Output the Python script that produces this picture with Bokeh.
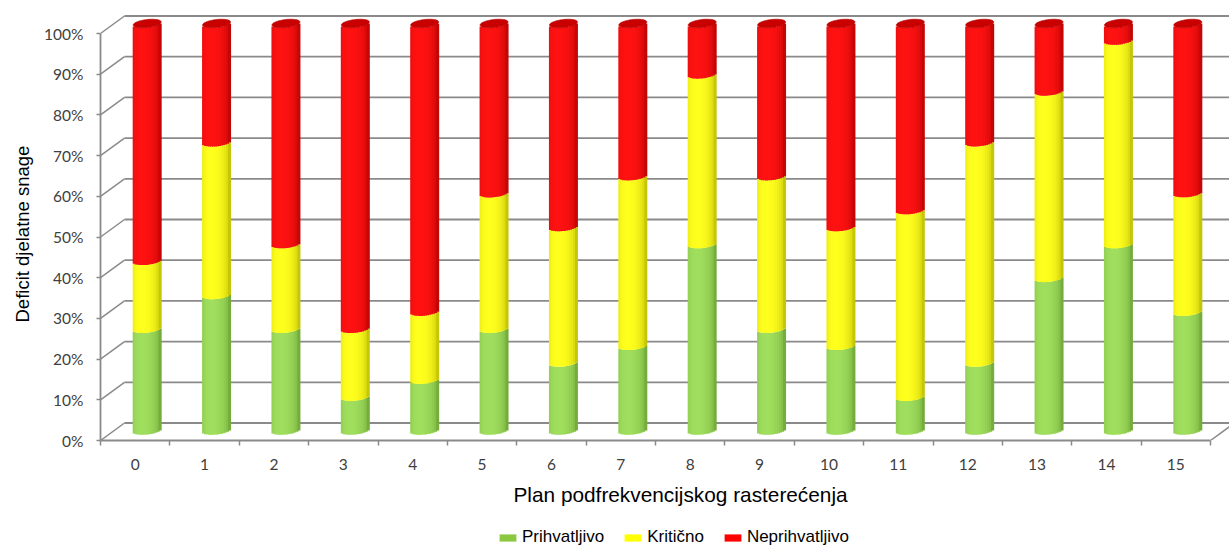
import math
from bokeh.plotting import figure
from bokeh.layouts import column
from bokeh.models import (ColumnDataSource, LinearAxis, FixedTicker, PrintfTickFormatter,
                          Legend, LegendItem, Range1d, Title)
from bokeh.embed import file_html
from bokeh.resources import INLINE

# ---- data -------------------------------------------------------------
plans = ["0", "1", "2", "3", "4", "5", "6", "7", "8", "9", "10", "11", "12", "13", "14", "15"]
prihvatljivo = [25.0, 33.3, 25.0, 8.3, 12.5, 25.0, 16.7, 20.8, 45.8, 25.0, 20.8, 8.3, 16.7, 37.5, 45.8, 29.2]
kriticno = [16.7, 37.5, 20.8, 16.7, 16.7, 33.3, 33.3, 41.7, 41.7, 37.5, 29.2, 45.8, 54.2, 45.8, 50.0, 29.2]
neprihvatljivo = [58.3, 29.2, 54.2, 75.0, 70.8, 41.7, 50.0, 37.5, 12.5, 37.5, 50.0, 45.8, 29.2, 16.7, 4.2, 41.7]
series_names = ["Prihvatljivo", "Kritično", "Neprihvatljivo"]
y_ticks = [0, 10, 20, 30, 40, 50, 60, 70, 80, 90, 100]

# ---- layout -----------------------------------------------------------
W, H, LEG_H = 1229, 547, 30
MAIN_H = H - LEG_H
B_LEFT, B_RIGHT, B_TOP, B_BOTTOM = 100, 0, 5, 77
frame_w = W - B_LEFT - B_RIGHT
frame_h = MAIN_H - B_TOP - B_BOTTOM
n = len(plans)
X_PX = 1110.0 / n          # pixels per category
Y_PX = 407.0 / 100.0       # pixels per percent
x_start, x_end = -0.5, -0.5 + frame_w / X_PX
y_start, y_end = 0.0, frame_h / Y_PX

# depth of the 3-D box (front plane -> back wall)
DX, DY = 24 / X_PX, 17.5 / Y_PX
# cylinders sit half way in depth
CX, CY = 12 / X_PX, 10 / Y_PX
R_PX, HS_PX, TILT_PX = 14.0, 4.0, 1.5
NSTRIP = 14

GRID = "#8a8a8a"
TEXT = "#404040"

# shading ramps (edge colour, highlight colour) per series
ramps = [((96, 150, 44), (160, 222, 94)),
         ((172, 172, 0), (255, 255, 30)),
         ((168, 0, 0), (255, 18, 18))]
cap_color = "#c80000"


def shade(ramp, u):
    lo, hi = ramp
    th = math.asin(max(-1.0, min(1.0, u)))
    t = max(0.0, math.cos(th + 0.35))
    t = 0.25 + 0.75 * t ** 0.7
    r, g, b = (int(round(l + (h - l) * t)) for l, h in zip(lo, hi))
    return "#%02x%02x%02x" % (r, g, b)


def front_offset(u):
    # vertical offset (px) of the visible front arc of the cylinder section
    return -HS_PX * math.sqrt(max(0.0, 1 - u * u)) + TILT_PX * u


p = figure(width=W, height=MAIN_H, x_range=Range1d(x_start, x_end), y_range=Range1d(y_start, y_end),
           x_axis_type=None, y_axis_type=None, toolbar_location=None, output_backend="svg",
           min_border_left=B_LEFT, min_border_right=B_RIGHT, min_border_top=B_TOP,
           min_border_bottom=B_BOTTOM, outline_line_color=None, background_fill_color="white")

# ---- walls / gridlines -------------------------------------------------
gx0 = [-0.5 + DX] * len(y_ticks)
gx1 = [x_end + 1] * len(y_ticks)
gy = [v + DY for v in y_ticks]
p.segment(x0=gx0, y0=gy, x1=gx1, y1=gy, line_color=GRID, line_width=1.8)
p.segment(x0=[-0.5] * len(y_ticks), y0=y_ticks, x1=gx0, y1=gy, line_color=GRID, line_width=1.5)
p.segment(x0=[n - 0.5], y0=[0], x1=[n - 0.5 + DX], y1=[DY], line_color=GRID, line_width=1.5)

# ---- cylinders ---------------------------------------------------------
series = [prihvatljivo, kriticno, neprihvatljivo]
strips = dict(left=[], right=[], bottom=[], top=[], color=[])
caps_x, caps_y = [], []
half_w = (R_PX / NSTRIP + 0.5) / X_PX
for i in range(n):
    total = sum(s[i] for s in series)
    cx = i + CX
    base = 0.0
    for k, s in enumerate(series):
        share = s[i] / total * 100.0
        if share <= 0:
            continue
        for j in range(NSTRIP):
            u = -1 + (2 * j + 1) / NSTRIP
            off = front_offset(u) / Y_PX
            xc = cx + u * R_PX / X_PX
            strips["left"].append(xc - half_w)
            strips["right"].append(xc + half_w)
            strips["bottom"].append(CY + base + off)
            strips["top"].append(CY + base + share + off)
            strips["color"].append(shade(ramps[k], u))
        base += share
    ex, ey = [], []
    for m in range(48):
        ph = 2 * math.pi * m / 48
        ex.append(cx + R_PX * math.cos(ph) / X_PX)
        ey.append(CY + base + (HS_PX * math.sin(ph) + TILT_PX * math.cos(ph)) / Y_PX)
    caps_x.append(ex)
    caps_y.append(ey)

p.quad(left="left", right="right", bottom="bottom", top="top", fill_color="color",
       line_color=None, source=ColumnDataSource(strips))
p.patches(xs=caps_x, ys=caps_y, fill_color=cap_color, line_color="#b00000", line_width=0.6)

# ---- axes --------------------------------------------------------------
yaxis = LinearAxis(ticker=FixedTicker(ticks=y_ticks), formatter=PrintfTickFormatter(format="%d%%"),
                   bounds=(0, 100))
yaxis.axis_line_color = GRID
yaxis.axis_line_width = 1.8
yaxis.major_tick_line_color = GRID
yaxis.major_tick_line_width = 1.5
yaxis.major_tick_out = 4
yaxis.major_tick_in = 0
yaxis.minor_tick_line_color = None
yaxis.major_label_standoff = 13
yaxis.major_label_text_font = "Lato"
yaxis.major_label_text_font_size = "15.5px"
yaxis.major_label_text_color = TEXT
p.add_layout(yaxis, "left")

xaxis = LinearAxis(ticker=FixedTicker(ticks=list(range(n)), minor_ticks=[i - 0.5 for i in range(n + 1)]),
                   major_label_overrides={i: plans[i] for i in range(n)},
                   bounds=(-0.5, n - 0.5))
xaxis.axis_line_color = GRID
xaxis.axis_line_width = 1.8
xaxis.major_tick_line_color = None
xaxis.major_tick_out = 5
xaxis.major_tick_in = 0
xaxis.minor_tick_line_color = GRID
xaxis.minor_tick_line_width = 1.5
xaxis.minor_tick_out = 5
xaxis.minor_tick_in = 0
xaxis.major_label_standoff = 13
xaxis.major_label_text_font = "Lato"
xaxis.major_label_text_font_size = "15.5px"
xaxis.major_label_text_color = TEXT
p.add_layout(xaxis, "below")

# axis titles
p.add_layout(Title(text="Deficit djelatne snage", align="left", offset=118,
                   vertical_align="top", standoff=14, text_font="Liberation Sans",
                   text_font_size="18.5px", text_font_style="normal", text_color="black"), "left")
p.add_layout(Title(text="Plan podfrekvencijskog rasterećenja", align="left", offset=413,
                   vertical_align="bottom", standoff=16, text_font="Liberation Sans",
                   text_font_size="20.8px", text_font_style="normal", text_color="black"), "below")

# ---- legend strip ------------------------------------------------------
leg = figure(width=W, height=LEG_H, x_range=Range1d(0, 1), y_range=Range1d(0, 1),
             x_axis_type=None, y_axis_type=None, toolbar_location=None, output_backend="svg",
             min_border=0, outline_line_color=None, background_fill_color="white")
legend_colors = ["#8cc83f", "#ffff00", "#ff0000"]
items = []
for name, col in zip(series_names, legend_colors):
    # swatch renderers sit outside the visible range; only their legend entry shows
    r = leg.quad(left=[5], right=[6], bottom=[5], top=[6], fill_color=col, line_color=None)
    items.append(LegendItem(label=name, renderers=[r]))
legend = Legend(items=items, orientation="horizontal", location=(397, 0),
                glyph_width=21, glyph_height=9, label_standoff=4, spacing=18,
                padding=0, margin=0, border_line_color=None, background_fill_alpha=0,
                label_text_font="Liberation Sans", label_text_font_size="17px",
                label_text_color="black")
leg.add_layout(legend, "center")

open("out.html", "w").write(file_html(column(p, leg, spacing=0), INLINE))
